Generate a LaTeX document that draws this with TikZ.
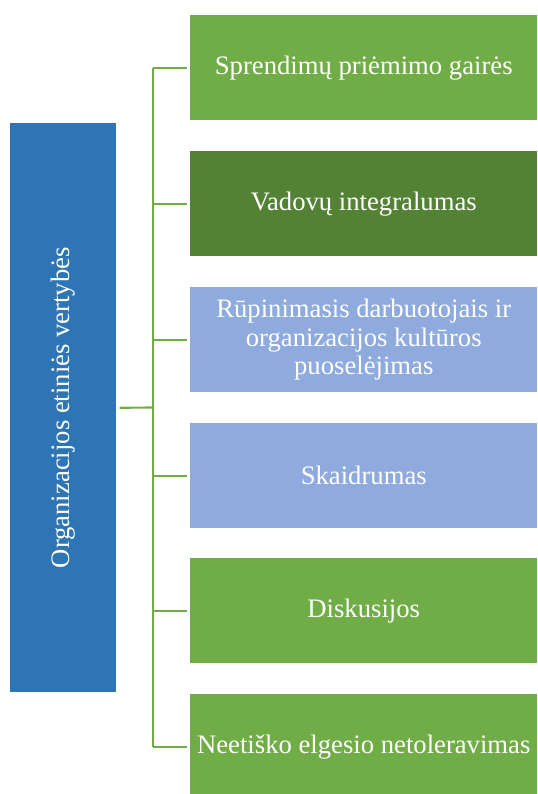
\documentclass[tikz,border=0pt]{standalone}
\usepackage{fontspec}
\setmainfont{Liberation Serif}
\definecolor{leafgreen}{HTML}{70AD47}
\definecolor{darkgreen}{HTML}{548235}
\definecolor{paleblue}{HTML}{8FAADC}
\definecolor{rootblue}{HTML}{2E75B6}
\tikzset{
  leaf/.style={minimum width=260.25pt, minimum height=78.75pt, inner sep=0pt,
    anchor=north west, text=white, align=center,
    font=\fontsize{20}{21.5}\selectfont},
  conn/.style={draw=leafgreen, line width=1.6pt},
}
\begin{document}
\begin{tikzpicture}[x=0.75pt,y=-0.75pt]
\useasboundingbox (0,0) rectangle (537,794);
\clip (0,0) rectangle (537,794);
% root box with rotated title
\node[fill=rootblue, minimum width=79.5pt, minimum height=426.75pt, inner sep=0pt,
  anchor=north west, text=white] (root) at (10,123) {};
\node[rotate=90, text=white, font=\fontsize{20}{22}\selectfont] (title)
  at (root.center) {Organizacijos etiniės vertybės};
% value boxes
\node[leaf, fill=leafgreen] (b1) at (190,15) {Sprendimų priėmimo gairės};
\node[leaf, fill=darkgreen] (b2) at (190,151) {Vadovų integralumas};
\node[leaf, fill=paleblue] (b3) at (190,287)
  {Rūpinimasis darbuotojais ir\\organizacijos kultūros\\puoselėjimas};
\node[leaf, fill=paleblue] (b4) at (190,423) {Skaidrumas};
\node[leaf, fill=leafgreen] (b5) at (190,558) {Diskusijos};
\node[leaf, fill=leafgreen] (b6) at (190,694) {Neetiško elgesio netoleravimas};
% bracket connectors
\coordinate (trunk) at (153,407.5);
\draw[conn] ([xshift=2.25pt]root.east) -- (trunk);
\draw[conn] (b1.west -| trunk) -- (b6.west -| trunk);
\foreach \b in {b1,b2,b3,b4,b5,b6}
  \draw[conn] (\b.west -| trunk) -- ([xshift=-2.25pt]\b.west);
\end{tikzpicture}
\end{document}
